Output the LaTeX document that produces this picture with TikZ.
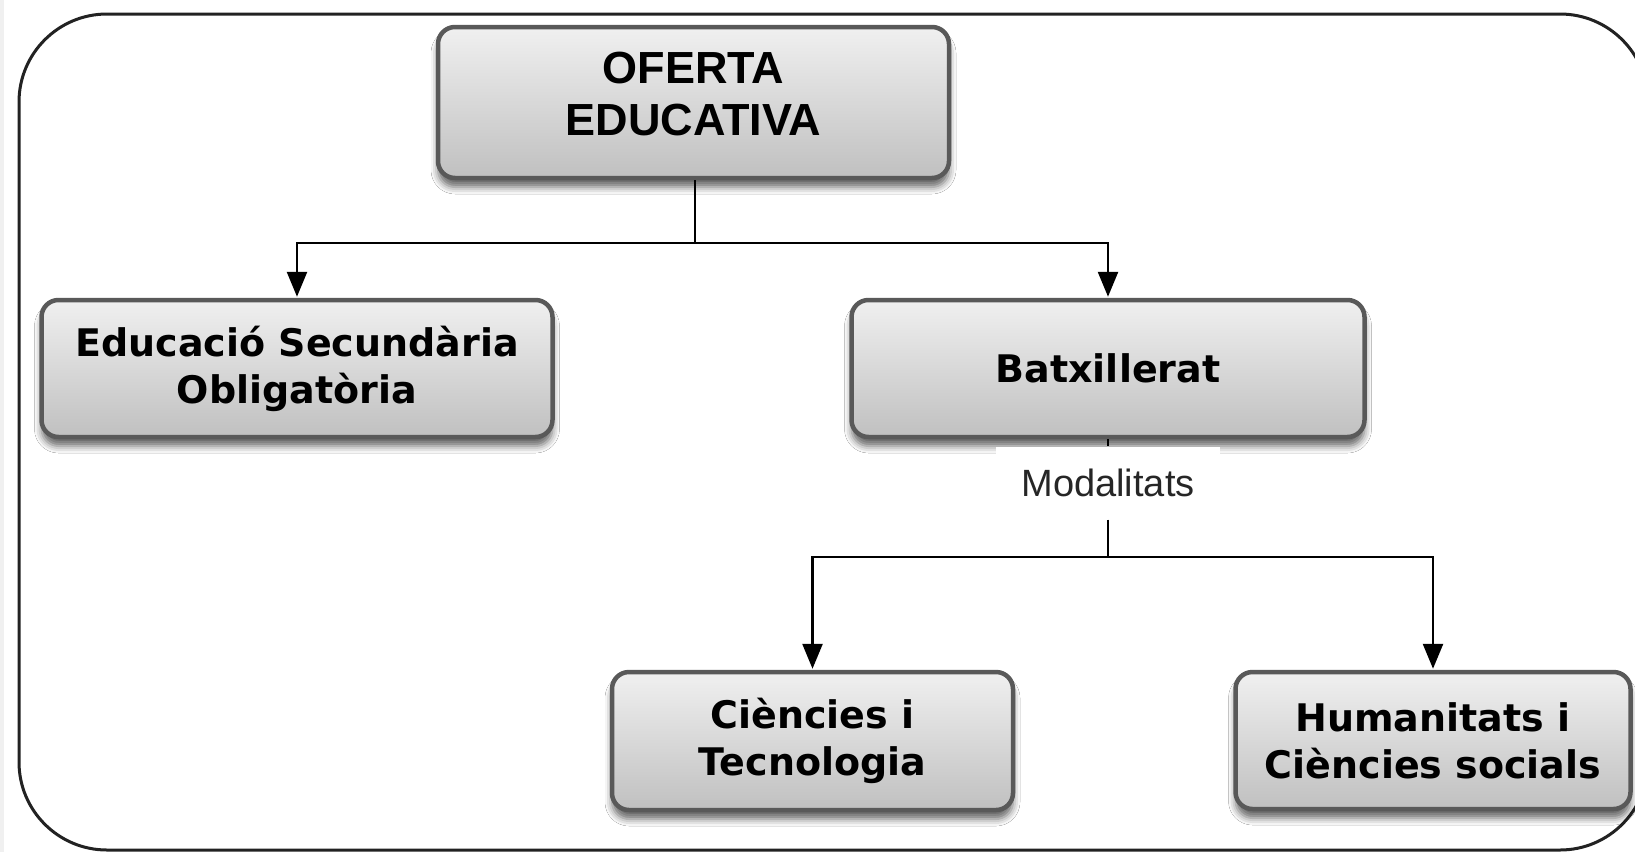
\documentclass[tikz,border=0pt]{standalone}
\usepackage{fontspec}
\newfontfamily\boxfont{DejaVu Sans}
\newfontfamily\helvfont{Liberation Sans}
\usetikzlibrary{arrows.meta,shadows.blur}
\definecolor{boxborder}{HTML}{595959}
\definecolor{boxtop}{HTML}{F0F0F0}
\definecolor{boxbot}{HTML}{C0C0C0}
\definecolor{framecol}{HTML}{222222}
\tikzset{
  ebox/.style={draw=boxborder, line width=4.5pt, rounded corners=17pt,
    top color=boxtop, bottom color=boxbot, align=center, inner sep=0pt,
    blur shadow={shadow xshift=0pt, shadow yshift=-9pt, shadow blur radius=7pt, shadow opacity=60},
    font=\boxfont\bfseries\fontsize{38}{47}\selectfont},
  topbox/.style={ebox, font=\helvfont\bfseries\fontsize{45}{52}\selectfont},
  conn/.style={draw=black, line width=2.6pt},
  arr/.style={conn, -{Triangle[length=25pt,width=20pt]}, shorten >=1pt},
  modlabel/.style={fill=white, draw=none, inner sep=0pt, minimum width=224pt, minimum height=73pt,
    font=\helvfont\fontsize{38}{40}\selectfont, text=black!85}
}
\begin{document}
\begin{tikzpicture}[x=1pt,y=-1pt]
\useasboundingbox (0,0) rectangle (1635,852);
\fill[white] (0,0) rectangle (1635,852);
\fill[gray!12] (0,0) rectangle (4,852);
\draw[framecol, line width=3pt, rounded corners=88pt] (19,14) rectangle (1648,850);

\node[topbox, minimum width=511pt, minimum height=151pt] (top) at (693.5,102.5) {OFERTA\\EDUCATIVA\\[-34pt]\mbox{}};
\node[ebox, minimum width=511pt, minimum height=137pt] (eso) at (297,368.5) {Educació Secundària\\Obligatòria};
\node[ebox, minimum width=513pt, minimum height=137pt] (bat) at (1108,368.5) {Batxillerat};
\node[ebox, minimum width=401pt, minimum height=138pt] (cie) at (812.5,741) {Ciències i\\Tecnologia};
\node[ebox, minimum width=395pt, minimum height=137pt] (hum) at (1433,740.5) {Humanitats i\\Ciències socials};

\coordinate (j1) at (695,243);
\draw[conn] (j1 |- top.south) -- (j1);
\draw[arr] (j1) -| (eso.north);
\draw[arr] (j1) -| (bat.north);

\node[modlabel] (mod) at (1108,483) {Modalitats};
\coordinate (j2) at (1108,557);
\draw[conn] (bat.south) -- (mod.north);
\draw[conn] (mod.south) -- (j2);
\draw[arr] (j2) -| (cie.north);
\draw[arr] (j2) -| (hum.north);
\end{tikzpicture}
\end{document}
